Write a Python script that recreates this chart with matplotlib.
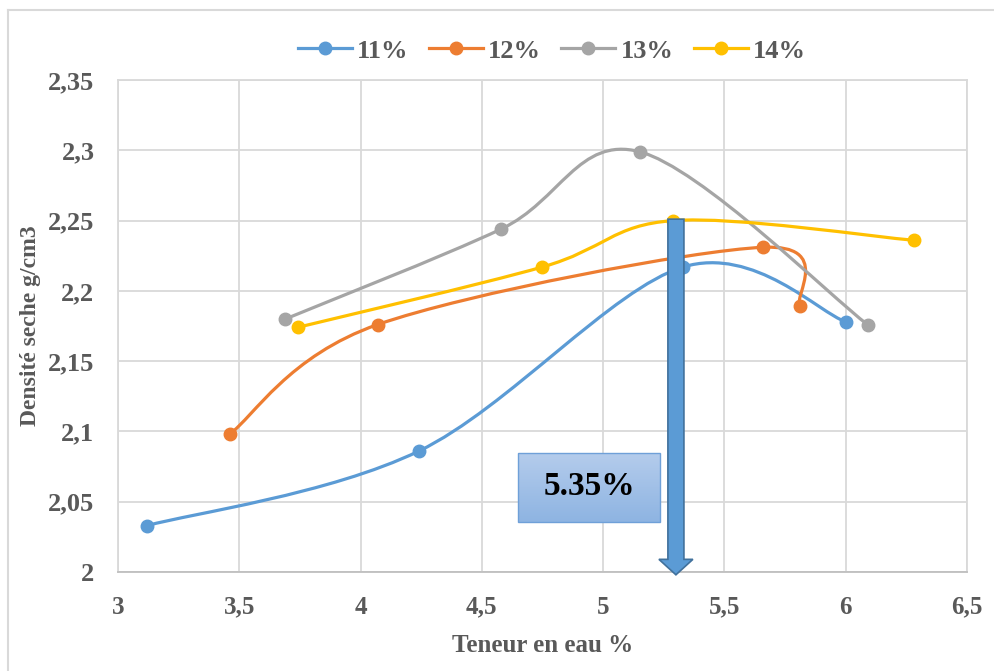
import numpy as np
import matplotlib
matplotlib.use("Agg")
import matplotlib.pyplot as plt
from matplotlib.path import Path
from matplotlib.patches import PathPatch, FancyArrow
from matplotlib.lines import Line2D

plt.rcParams['font.family'] = ['Liberation Serif', 'DejaVu Serif']
plt.rcParams['font.weight'] = 'bold'

# data
x_11 = [3.12, 4.24, 5.33, 6.00]
y_11 = [2.033, 2.086, 2.217, 2.178]
x_12 = [3.46, 4.07, 5.66, 5.81]
y_12 = [2.098, 2.176, 2.231, 2.189]
x_13 = [3.69, 4.58, 5.15, 6.09]
y_13 = [2.180, 2.244, 2.299, 2.176]
x_14 = [3.74, 4.75, 5.29, 6.28]
y_14 = [2.174, 2.217, 2.250, 2.236]

series_labels = ['11%', '12%', '13%', '14%']
series_colors = ['#5B9BD5', '#ED7D31', '#A5A5A5', '#FFC000']

x_ticks = [3, 3.5, 4, 4.5, 5, 5.5, 6, 6.5]
y_ticks = [2, 2.05, 2.1, 2.15, 2.2, 2.25, 2.3, 2.35]

optimum_x = 5.3
optimum_label = '5.35%'

grey_text = '#595959'


def smooth_path(ax, xs, ys):
    # Excel-like smoothed line: Catmull-Rom bezier computed in display space
    pts = ax.transData.transform(np.column_stack([xs, ys]))
    n = len(pts)
    verts = [pts[0]]
    codes = [Path.MOVETO]
    for i in range(n - 1):
        p0 = pts[i - 1] if i > 0 else pts[i]
        p1 = pts[i]
        p2 = pts[i + 1]
        p3 = pts[i + 2] if i + 2 < n else pts[i + 1]
        c1 = p1 + (p2 - p0) / 6.0
        c2 = p2 - (p3 - p1) / 6.0
        verts += [c1, c2, p2]
        codes += [Path.CURVE4] * 3
    verts = ax.transData.inverted().transform(np.array(verts))
    return Path(verts, codes)


fig = plt.figure(figsize=(9.94, 6.71), dpi=100)
ax = fig.add_axes([118 / 994, 1 - 572 / 671, (967 - 118) / 994, (572 - 80) / 671])

ax.set_xlim(3, 6.5)
ax.set_ylim(2, 2.35)
ax.set_xticks(x_ticks)
ax.set_yticks(y_ticks)
ax.set_xticklabels([('%g' % v).replace('.', ',') for v in x_ticks])
ax.set_yticklabels([('%g' % v).replace('.', ',') for v in y_ticks])
ax.tick_params(length=0, colors=grey_text)
ax.tick_params(axis='x', labelsize=18, pad=17)
ax.tick_params(axis='y', labelsize=19, pad=17)
for lab in ax.get_xticklabels() + ax.get_yticklabels():
    lab.set_fontweight('bold')
ax.grid(True, color='#D9D9D9', linewidth=1.3)
ax.set_axisbelow(True)
for side in ax.spines.values():
    side.set_color('#D9D9D9')
    side.set_linewidth(1.3)
ax.spines['bottom'].set_color('#BFBFBF')

ax.set_xlabel('Teneur en eau %', fontsize=18, fontweight='bold', color=grey_text, labelpad=11)
ax.set_ylabel('Densité seche g/cm3', fontsize=17, fontweight='bold', color=grey_text, labelpad=5)

all_x = [x_11, x_12, x_13, x_14]
all_y = [y_11, y_12, y_13, y_14]
handles = []
for xs, ys, col, lab in zip(all_x, all_y, series_colors, series_labels):
    ax.add_patch(PathPatch(smooth_path(ax, xs, ys), facecolor='none', edgecolor=col,
                           linewidth=2.3, capstyle='round', zorder=3))
    ax.plot(xs, ys, linestyle='none', marker='o', markersize=9, color=col, zorder=4)
    handles.append(Line2D([0], [0], color=col, linewidth=2.3, marker='o', markersize=9))

fig.legend(handles, series_labels, loc='center', bbox_to_anchor=(552 / 994, 1 - 51 / 671),
           ncol=4, frameon=False, handlelength=2.05, columnspacing=0.76, handletextpad=0.2,
           prop={'family': 'Liberation Serif', 'weight': 'bold', 'size': 19},
           labelcolor=grey_text)

# text box with gradient fill
bx0, bx1, by0, by1 = 4.65, 5.235, 2.0355, 2.0845
grad = np.linspace(0, 1, 64).reshape(-1, 1)
top_col = np.array([0xB4, 0xCC, 0xEC]) / 255
bot_col = np.array([0x8E, 0xB4, 0xE2]) / 255
img = top_col * (1 - grad[..., None]) + bot_col * grad[..., None]
ax.imshow(img, extent=[bx0, bx1, by0, by1], aspect='auto', origin='upper', zorder=5)
ax.add_patch(plt.Rectangle((bx0, by0), bx1 - bx0, by1 - by0, facecolor='none',
                           edgecolor='#6FA0D8', linewidth=1.0, zorder=6))
ax.text((bx0 + bx1) / 2, (by0 + by1) / 2 + 0.001, optimum_label, ha='center', va='center',
        fontsize=24, fontweight='bold', color='black', zorder=7)
ax.set_xlim(3, 6.5)
ax.set_ylim(2, 2.35)

# vertical arrow marking the optimum
arrow = FancyArrow(optimum_x, 2.251, 0, -0.253, width=0.066, head_width=0.14,
                   head_length=0.011, length_includes_head=True,
                   facecolor='#5B9BD5', edgecolor='#41719C', linewidth=1.2,
                   zorder=8, clip_on=False)
ax.add_patch(arrow)

# chart frame (left and top edges)
fig.add_artist(Line2D([7.5 / 994, 7.5 / 994], [0, 1 - 9.5 / 671], color='#D9D9D9', linewidth=1.5))
fig.add_artist(Line2D([7.5 / 994, 1], [1 - 9.5 / 671, 1 - 9.5 / 671], color='#D9D9D9', linewidth=1.5))

fig.savefig('out.png', dpi=100)
